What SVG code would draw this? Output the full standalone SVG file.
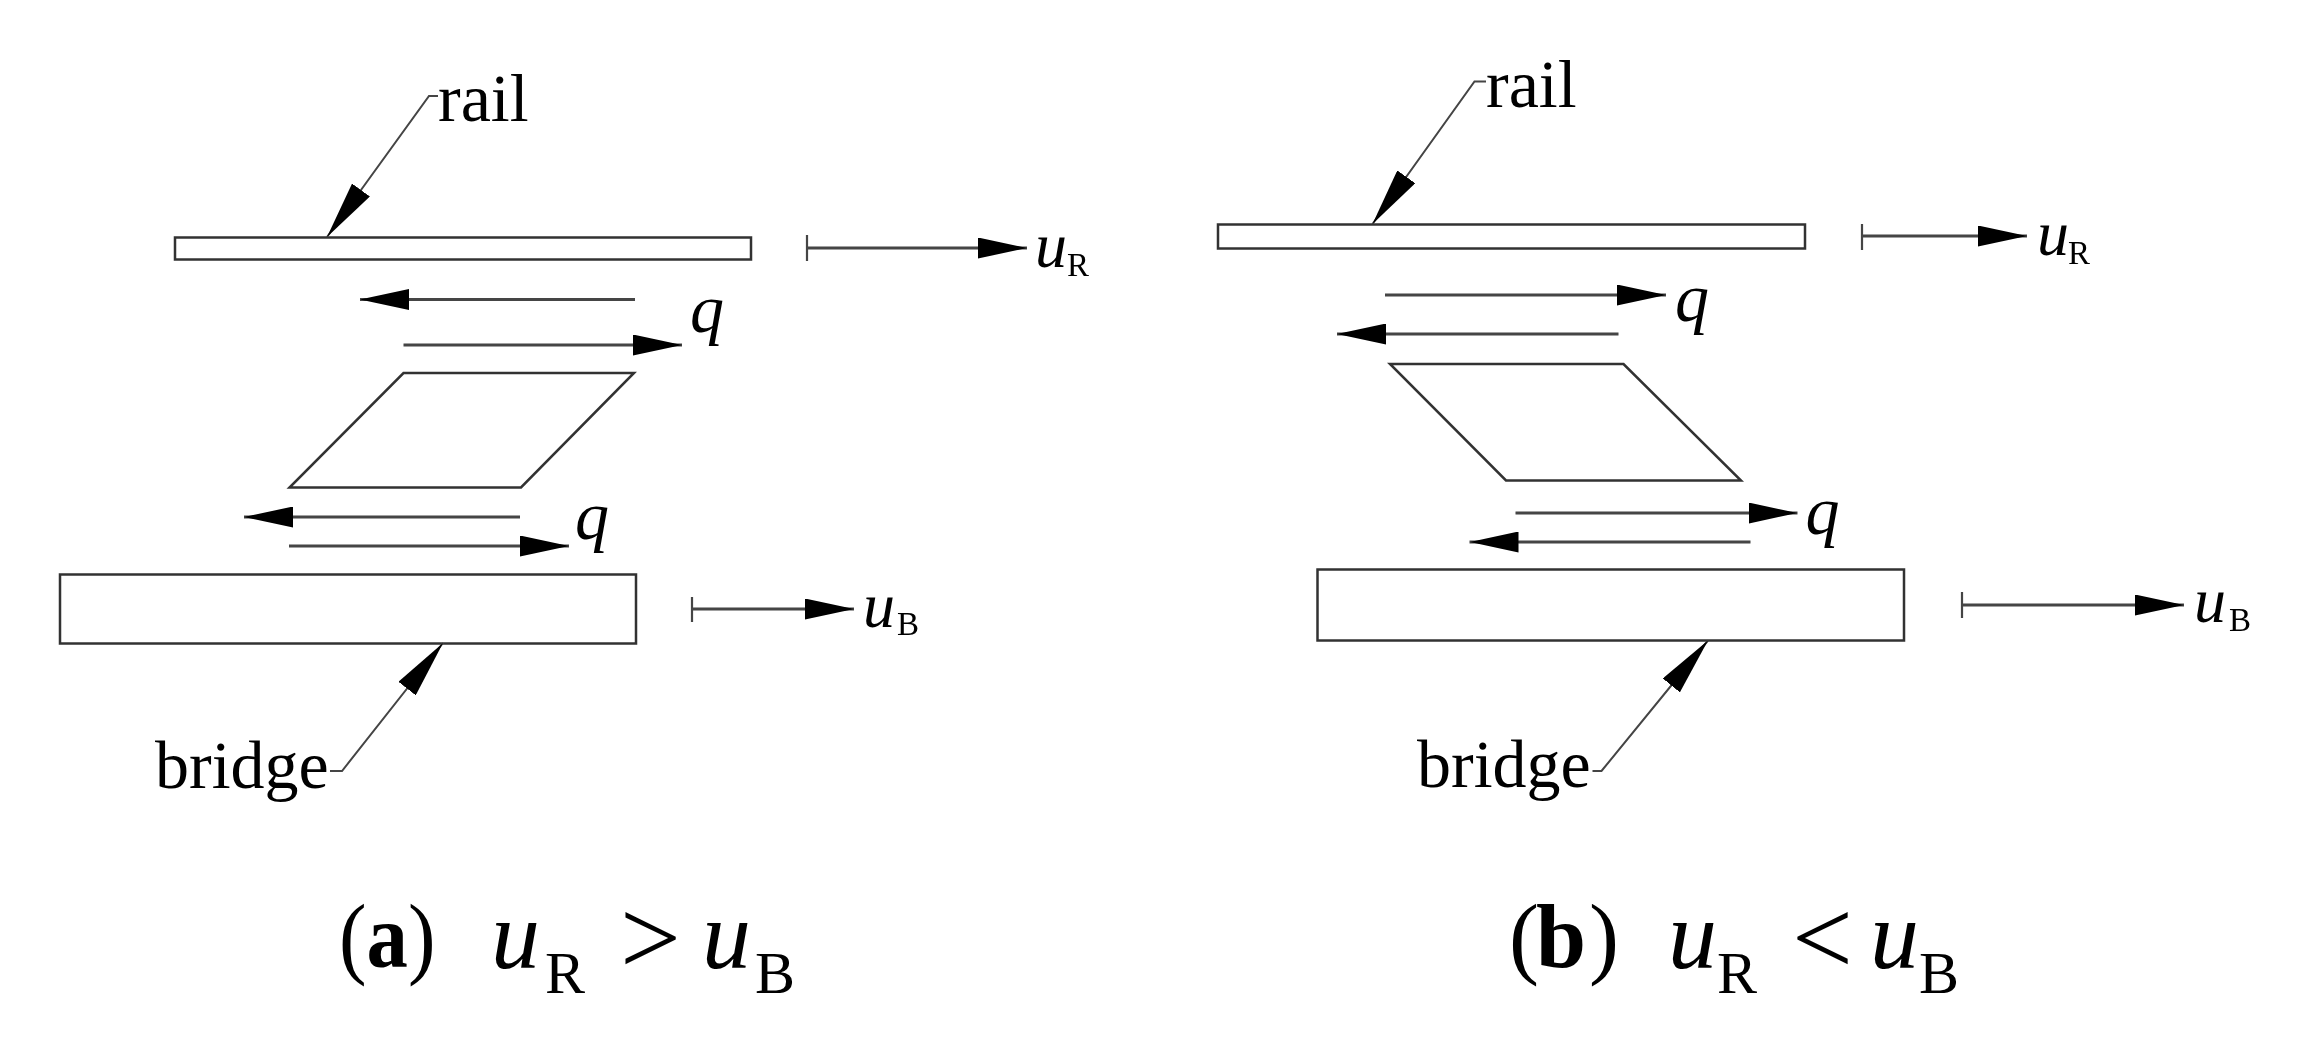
<svg xmlns="http://www.w3.org/2000/svg" width="2299" height="1037" viewBox="0 0 2299 1037">
<style>
text{font-family:"Liberation Serif","Times New Roman",serif;fill:#000}
.box{fill:#fff;stroke:#333;stroke-width:2.5}
.lab{font-size:68px}
.u{font-size:64px;font-style:italic}
.s{font-size:33px}
.q{font-size:68px;font-style:italic}
.cu{font-size:98px;font-style:italic}
.cs{font-size:60px}
.cap{font-size:90px}
.capb{font-weight:bold}
.rel{font-size:108px}
.ar{fill:none;stroke:#444;stroke-width:3;marker-end:url(#head)}
.ld{fill:none;stroke:#444;stroke-width:2;marker-end:url(#lead)}
.tk{stroke:#444;stroke-width:2.2}
</style>
<defs>
<filter id="soft" x="-5%" y="-5%" width="110%" height="110%"><feGaussianBlur stdDeviation="0.7"/></filter>
<marker id="head" markerUnits="userSpaceOnUse" markerWidth="49" markerHeight="21" viewBox="0 0 49 21" refX="49" refY="10.5" orient="auto"><path d="M0 0L49 10.5L0 21Z" fill="#000"/></marker>
<marker id="lead" markerUnits="userSpaceOnUse" markerWidth="58" markerHeight="22" viewBox="0 0 58 22" refX="58" refY="11" orient="auto"><path d="M0 0L58 11L0 22Z" fill="#000"/></marker>
</defs>
<rect width="2299" height="1037" fill="#fff"/>
<g id="rail-a" filter="url(#soft)"><rect class="box" x="175" y="237.500" width="576" height="22"/></g>
<g id="layer-a" filter="url(#soft)"><path class="box" d="M403.500 373H634L521 487.500H289.500Z"/></g>
<g id="bridge-a" filter="url(#soft)"><rect class="box" x="60" y="574.500" width="576" height="69"/></g>
<g id="rail-b" filter="url(#soft)"><rect class="box" x="1218" y="224.500" width="587" height="24"/></g>
<g id="layer-b" filter="url(#soft)"><path class="box" d="M1390 364H1623.500L1741 480.500H1506Z"/></g>
<g id="bridge-b" filter="url(#soft)"><rect class="box" x="1317.500" y="569.500" width="586.500" height="71"/></g>
<g id="connectors" filter="url(#soft)">
<polyline class="ld" points="438,96 429,96 327,237"/>
<polyline class="ld" points="330,771 342,771 443,643"/>
<line class="tk" x1="807" y1="235" x2="807" y2="261"/><line class="ar" x1="807" y1="248" x2="1027" y2="248"/>
<line class="tk" x1="692" y1="597" x2="692" y2="622"/><line class="ar" x1="692" y1="609" x2="854" y2="609"/>
<line class="ar" x1="635" y1="299.500" x2="360" y2="299.500"/>
<line class="ar" x1="403.500" y1="345" x2="682" y2="345"/>
<line class="ar" x1="520" y1="517" x2="244" y2="517"/>
<line class="ar" x1="289" y1="546" x2="569" y2="546"/>
<polyline class="ld" points="1486,81.500 1474.500,81.500 1372.500,224"/>
<polyline class="ld" points="1592.500,771 1601.500,771 1708,640.500"/>
<line class="tk" x1="1862" y1="224" x2="1862" y2="250"/><line class="ar" x1="1862" y1="236" x2="2027" y2="236"/>
<line class="tk" x1="1962" y1="592" x2="1962" y2="618"/><line class="ar" x1="1962" y1="605" x2="2184" y2="605"/>
<line class="ar" x1="1385" y1="295" x2="1666" y2="295"/>
<line class="ar" x1="1618.500" y1="334" x2="1337" y2="334"/>
<line class="ar" x1="1515.500" y1="513" x2="1797.500" y2="513"/>
<line class="ar" x1="1750.500" y1="542" x2="1469.500" y2="542"/>
</g>
<g id="labels-a" filter="url(#soft)">
<text class="lab" x="438" y="121">rail</text>
<text class="lab" x="155" y="788">bridge</text>
<text class="u" x="1035" y="266.500">u</text><text class="s" x="1067" y="276">R</text>
<text class="u" x="863" y="627">u</text><text class="s" x="897" y="635">B</text>
<text class="q" x="690" y="332">q</text>
<text class="q" x="575" y="539">q</text>
</g>
<g id="caption-a">
<text class="cap" x="339" y="967" textLength="96.500" lengthAdjust="spacingAndGlyphs">(<tspan class="capb">a</tspan>)</text>
<text class="cu" x="491" y="968">u</text><text class="cs" x="545" y="993">R</text>
<text class="rel" x="620" y="973.500">&gt;</text>
<text class="cu" x="702" y="968">u</text><text class="cs" x="755" y="993">B</text>
</g>
<g id="labels-b" filter="url(#soft)">
<text class="lab" x="1486" y="107">rail</text>
<text class="lab" x="1417" y="787">bridge</text>
<text class="u" x="2037" y="254.500">u</text><text class="s" x="2068" y="264">R</text>
<text class="u" x="2194" y="622">u</text><text class="s" x="2229" y="631">B</text>
<text class="q" x="1675" y="321">q</text>
<text class="q" x="1805.500" y="534">q</text>
</g>
<g id="caption-b">
<text class="cap" x="1509" y="967">(<tspan class="capb" dx="-3">b</tspan><tspan dx="3">)</tspan></text>
<text class="cu" x="1668" y="968">u</text><text class="cs" x="1717" y="993">R</text>
<text class="rel" x="1792" y="973.500">&lt;</text>
<text class="cu" x="1870" y="968">u</text><text class="cs" x="1919" y="993">B</text>
</g>
</svg>
